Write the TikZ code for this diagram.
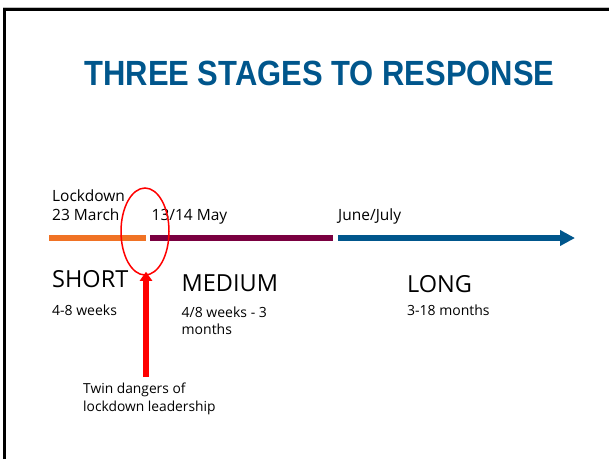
\documentclass[tikz,border=0pt]{standalone}
\usepackage{fontspec}
\setmainfont{Open Sans}
\newfontfamily\titlefont{Liberation Sans}[FakeStretch=0.884]
\usetikzlibrary{arrows.meta}
\usetikzlibrary{shapes,shapes.geometric,calc,positioning}
\definecolor{slideblue}{RGB}{0,86,140}
\definecolor{stageorange}{RGB}{240,114,36}
\definecolor{stageplum}{RGB}{122,0,64}
\definecolor{alertred}{RGB}{255,0,0}

\begin{document}
\begin{tikzpicture}[x=1pt,y=-1pt,
  label/.style={inner sep=0pt,anchor=base west,align=left},
  datetext/.style={label,font=\fontsize{15.5}{19}\selectfont},
  stagetext/.style={label,font=\fontsize{23.5}{28}\selectfont},
  spantext/.style={label,font=\fontsize{14}{17}\selectfont},
  stageline/.style={line width=5.5pt},
  redarrow/.style={draw=alertred,line width=5.5pt,-{Triangle[length=9pt,width=12pt]}}]
\useasboundingbox (0,0) rectangle (609,459);
% slide frame
\draw[gray!50,line width=1.5pt] (3.3,7.5) -- (609,7.5);
\draw[line width=2.4pt] (4.5,459) -- (4.5,9.5) -- (609,9.5);

\node[inner sep=0pt,anchor=base,text=slideblue,font={\titlefont\bfseries\fontsize{35}{40}\selectfont}] (title) at (319.5,85) {THREE STAGES TO RESPONSE};

% dates above the time line (base = last line)
\node[datetext] (lockdown) at (52,220.7) {Lockdown\\23 March};
\node[datetext] (may) at (151.5,220.7) {13/14 May};
\node[datetext] (june) at (338,220.7) {June/July};

% time line
\coordinate (o1) at (49,238);
\coordinate (o2) at (146,238);
\coordinate (p1) at (150,238);
\coordinate (p2) at (333,238);
\coordinate (b1) at (338,238);
\coordinate (b2) at (575,238);
\draw[stageline,draw=stageorange] (o1) -- (o2);
\draw[stageline,draw=stageplum] (p1) -- (p2);
\draw[stageline,draw=slideblue,-{Triangle[length=15pt,width=15pt]}] (b1) -- (b2);

% stages
\node[stagetext] (short) at (52,287) {SHORT};
\node[stagetext] (medium) at (181.5,291) {MEDIUM};
\node[stagetext] (long) at (407,292) {LONG};
\node[spantext] (shortspan) at (52,315.5) {4-8 weeks};
\node[spantext] (mediumspan) at (181.5,334) {4/8 weeks - 3\\months};
\node[spantext] (longspan) at (407,315.5) {3-18 months};

% danger zone
\node[draw=alertred,line width=1.5pt,ellipse,minimum width=48pt,minimum height=87pt,inner sep=0pt] (danger) at (145,231.5) {};
\node[label,font=\fontsize{13.8}{18.5}\selectfont] (twin) at (83,411.5) {Twin dangers of\\lockdown leadership};
\coordinate (dangerfoot) at (146,377);
\draw[redarrow,shorten >=-4pt] (dangerfoot) -- (dangerfoot |- danger.south);
\end{tikzpicture}
\end{document}
